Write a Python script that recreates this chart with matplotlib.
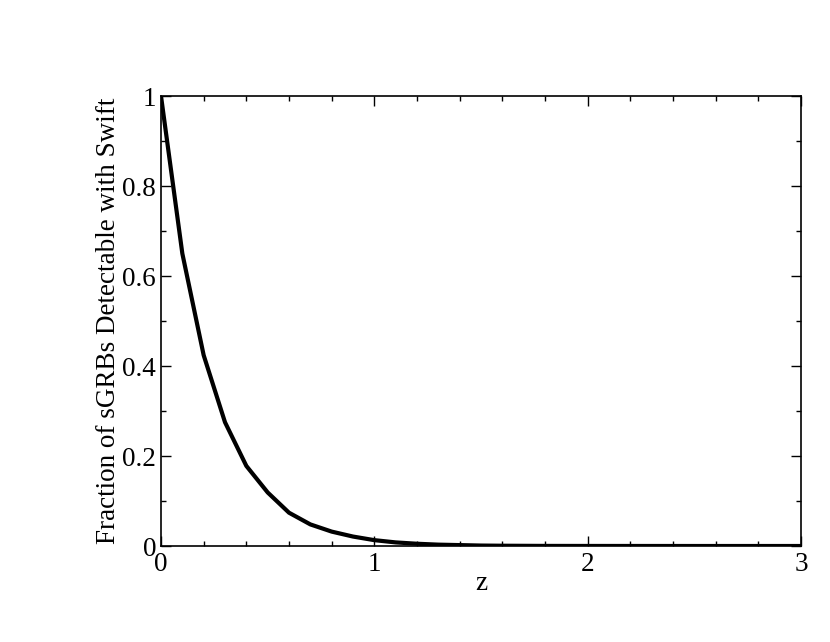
import matplotlib
matplotlib.use( "Agg" )
import matplotlib.pyplot as plt
from matplotlib.ticker import MultipleLocator

#  Detectable fraction vs redshift
z_values = [ 0.0, 0.1, 0.2, 0.3, 0.4, 0.5, 0.6, 0.7, 0.8, 0.9, 1.0,
             1.1, 1.2, 1.3, 1.4, 1.5, 1.6, 1.8, 2.0, 2.5, 3.0 ]
fraction = [ 1.0, 0.650, 0.424, 0.275, 0.178, 0.119, 0.074, 0.048, 0.032, 0.021, 0.013,
             0.008, 0.005, 0.003, 0.002, 0.001, 0.0006, 0.0002, 0.0001, 0.0, 0.0 ]

x_ticks = [ 0, 1, 2, 3 ]
y_ticks = [ 0, 0.2, 0.4, 0.6, 0.8, 1 ]
y_tick_labels = [ "0", "0.2", "0.4", "0.6", "0.8", "1" ]

plt.rcParams[ "font.family" ] = [ "Liberation Serif", "DejaVu Serif" ]

fig = plt.figure( figsize = ( 8.3, 6.42 ), dpi = 100 )
ax = fig.add_axes( [ 161 / 830, 96 / 642, 640 / 830, 450 / 642 ] )

ax.plot( z_values, fraction, color = "black", lw = 3.0, solid_joinstyle = "miter" )

ax.set_xlim( 0, 3 )
ax.set_ylim( 0, 1 )

ax.set_xticks( x_ticks )
ax.set_xticklabels( [ str( t ) for t in x_ticks ] )
ax.set_yticks( y_ticks )
ax.set_yticklabels( y_tick_labels )
ax.xaxis.set_minor_locator( MultipleLocator( 0.2 ) )
ax.yaxis.set_minor_locator( MultipleLocator( 0.1 ) )

ax.tick_params( which = "both", direction = "in", top = True, right = True, width = 1.0, labelsize = 19.5 )
ax.tick_params( which = "major", length = 7.5 )
ax.tick_params( which = "minor", length = 3.8 )
ax.tick_params( axis = "x", which = "major", pad = 4 )
ax.tick_params( axis = "y", which = "major", pad = 3.5 )

for s in ax.spines.values():
  s.set_linewidth( 1.2 )

ax.set_xlabel( "z", fontsize = 19.5, labelpad = -4 )
ax.set_ylabel( "Fraction of sGRBs Detectable with Swift", fontsize = 19.5, labelpad = 1 )

fig.savefig( "out.png", dpi = 100 )
